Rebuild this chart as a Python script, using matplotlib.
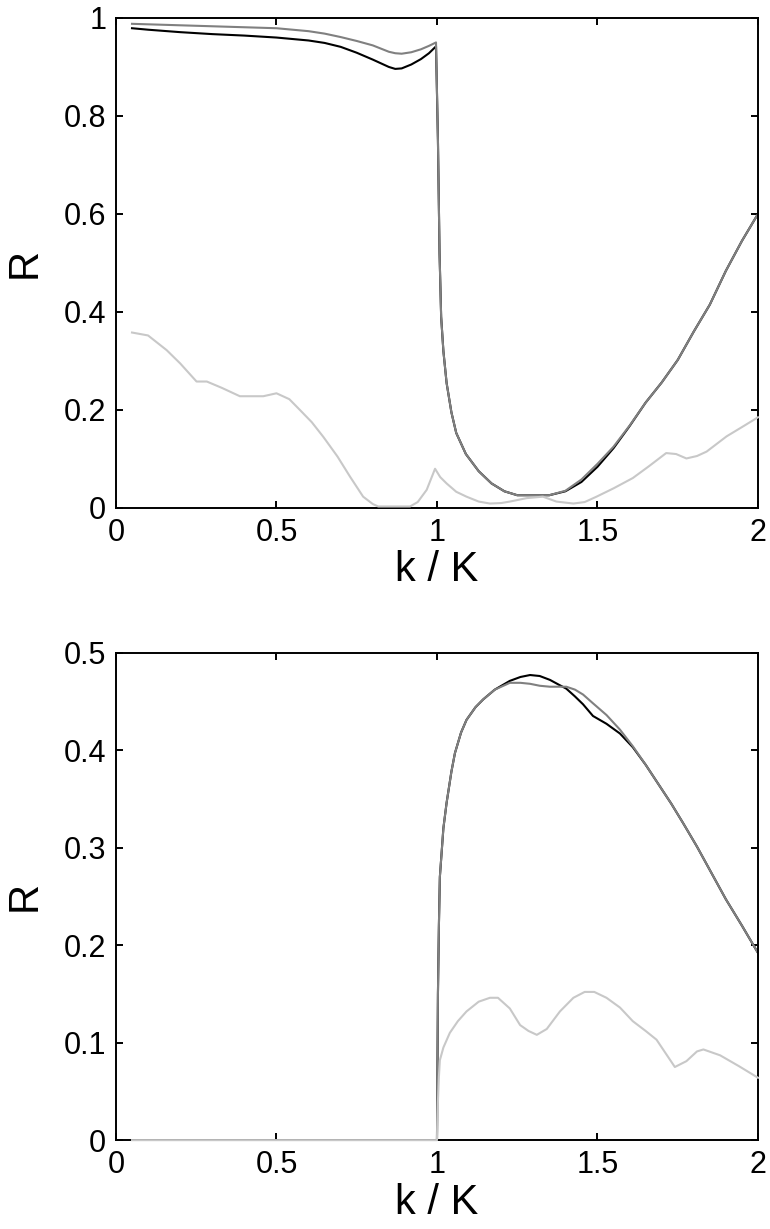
import matplotlib
matplotlib.use('Agg')
import matplotlib.pyplot as plt

plt.rcParams['font.family'] = ['Liberation Sans', 'DejaVu Sans']

BLACK = '#000000'
DARK_GREY = '#808080'
LIGHT_GREY = '#c8c8c8'

# ---- top panel data ----
top_drop_x = [1.003, 1.008, 1.013, 1.02, 1.03, 1.045, 1.06, 1.09, 1.13, 1.17,
              1.21, 1.25, 1.35, 1.4, 1.45, 1.5, 1.55, 1.6, 1.65, 1.7, 1.75,
              1.8, 1.85, 1.9, 1.95, 2.0]
top_drop_y = [0.75, 0.52, 0.39, 0.32, 0.255, 0.195, 0.153, 0.11, 0.075, 0.05,
              0.034, 0.026, 0.026, 0.035, 0.058, 0.09, 0.125, 0.168, 0.215, 0.256, 0.302,
              0.36, 0.415, 0.484, 0.545, 0.6]
top_drop_y_black = [0.75, 0.52, 0.39, 0.32, 0.255, 0.195, 0.153, 0.11, 0.075, 0.05,
                    0.034, 0.026, 0.026, 0.034, 0.053, 0.084, 0.122, 0.167, 0.215, 0.256, 0.302,
                    0.36, 0.415, 0.484, 0.545, 0.6]

top_low_x = [0.05, 0.1, 0.2, 0.3, 0.4, 0.5, 0.6, 0.65, 0.7, 0.75, 0.8, 0.85,
             0.87, 0.89, 0.92, 0.95, 0.975, 0.997]
top_black_low = [0.979, 0.976, 0.971, 0.967, 0.964, 0.960, 0.954, 0.949, 0.941,
                 0.929, 0.915, 0.900, 0.896, 0.897, 0.905, 0.916, 0.928, 0.942]
top_grey_low = [0.988, 0.987, 0.985, 0.983, 0.981, 0.979, 0.973, 0.968, 0.961,
                0.953, 0.944, 0.931, 0.928, 0.927, 0.930, 0.936, 0.943, 0.950]

top_light_x = [0.05, 0.1, 0.158, 0.2, 0.251, 0.283, 0.33, 0.386, 0.459, 0.5, 0.54,
               0.573, 0.61, 0.646, 0.69, 0.729, 0.77, 0.8, 0.817, 0.916, 0.94,
               0.968, 0.994, 1.01, 1.03, 1.06, 1.092, 1.13, 1.165, 1.2, 1.227,
               1.279, 1.33, 1.372, 1.425, 1.46, 1.497, 1.55, 1.61, 1.66, 1.714,
               1.745, 1.777, 1.81, 1.84, 1.87, 1.902, 1.95, 2.0]
top_light_y = [0.358, 0.352, 0.322, 0.295, 0.258, 0.258, 0.245, 0.228, 0.228, 0.234, 0.222,
               0.2, 0.175, 0.145, 0.105, 0.064, 0.023, 0.008, 0.003, 0.003, 0.012,
               0.037, 0.08, 0.063, 0.05, 0.033, 0.023, 0.013, 0.009, 0.01, 0.013,
               0.02, 0.023, 0.013, 0.009, 0.012, 0.023, 0.04, 0.061, 0.085, 0.112,
               0.11, 0.101, 0.106, 0.115, 0.13, 0.146, 0.165, 0.185]

# ---- bottom panel data ----
bot_x = [0.05, 1.0, 1.003, 1.006, 1.009, 1.02, 1.03, 1.045, 1.056, 1.075, 1.092,
         1.12, 1.144, 1.18, 1.227, 1.26, 1.29, 1.32, 1.352, 1.38, 1.403, 1.43,
         1.455, 1.486, 1.528, 1.57, 1.61, 1.65, 1.694, 1.73, 1.767, 1.81, 1.85,
         1.9, 1.95, 2.0]
bot_grey = [0.0, 0.0, 0.15, 0.22, 0.27, 0.32, 0.346, 0.378, 0.397, 0.418, 0.431,
            0.444, 0.452, 0.462, 0.469, 0.469, 0.468, 0.466, 0.465, 0.465, 0.465, 0.462,
            0.457, 0.448, 0.436, 0.421, 0.404, 0.385, 0.363, 0.345, 0.325, 0.301, 0.277,
            0.247, 0.22, 0.192]
bot_black = [0.0, 0.0, 0.15, 0.22, 0.27, 0.32, 0.346, 0.378, 0.397, 0.418, 0.431,
             0.444, 0.452, 0.462, 0.471, 0.475, 0.477, 0.476, 0.472, 0.467, 0.463, 0.455,
             0.447, 0.435, 0.427, 0.417, 0.403, 0.385, 0.363, 0.345, 0.325, 0.301, 0.277,
             0.247, 0.22, 0.192]

bot_light_x = [0.05, 1.0, 1.003, 1.006, 1.009, 1.02, 1.04, 1.065, 1.092, 1.13, 1.165,
               1.19, 1.227, 1.259, 1.285, 1.311, 1.342, 1.383, 1.425, 1.46, 1.49,
               1.528, 1.57, 1.61, 1.65, 1.684, 1.741, 1.777, 1.81, 1.83, 1.882,
               1.94, 2.0]
bot_light_y = [0.0, 0.0, 0.04, 0.065, 0.082, 0.095, 0.11, 0.122, 0.132, 0.142, 0.146,
               0.146, 0.135, 0.118, 0.112, 0.108, 0.114, 0.132, 0.146, 0.152, 0.152,
               0.146, 0.136, 0.122, 0.112, 0.103, 0.075, 0.081, 0.091, 0.093, 0.087,
               0.076, 0.064]

x_ticks = [0, 0.5, 1, 1.5, 2]
x_tick_labels = ['0', '0.5', '1', '1.5', '2']
top_y_ticks = [0, 0.2, 0.4, 0.6, 0.8, 1]
top_y_labels = ['0', '0.2', '0.4', '0.6', '0.8', '1']
bot_y_ticks = [0, 0.1, 0.2, 0.3, 0.4, 0.5]
bot_y_labels = ['0', '0.1', '0.2', '0.3', '0.4', '0.5']

fig = plt.figure(figsize=(7.7, 12.29), dpi=100)
ax_top = fig.add_axes([0.1506, 0.5867, 0.8338, 0.3987])
ax_bot = fig.add_axes([0.1506, 0.0723, 0.8338, 0.3967])

lw = 1.5
ax_top.plot(top_low_x + top_drop_x, top_black_low + top_drop_y_black, color=BLACK, lw=lw)
ax_top.plot(top_low_x + top_drop_x, top_grey_low + top_drop_y, color=DARK_GREY, lw=lw)
ax_top.plot(top_light_x, top_light_y, color=LIGHT_GREY, lw=lw, zorder=3, clip_on=False)

ax_bot.plot(bot_x, bot_black, color=BLACK, lw=lw)
ax_bot.plot(bot_x, bot_grey, color=DARK_GREY, lw=lw)
ax_bot.plot(bot_light_x, bot_light_y, color=LIGHT_GREY, lw=lw, zorder=3, clip_on=False)

for ax, yt, yl, ymax in [(ax_top, top_y_ticks, top_y_labels, 1),
                         (ax_bot, bot_y_ticks, bot_y_labels, 0.5)]:
    ax.set_xlim(0, 2)
    ax.set_ylim(0, ymax)
    ax.set_xticks(x_ticks)
    ax.set_xticklabels(x_tick_labels)
    ax.set_yticks(yt)
    ax.set_yticklabels(yl)
    ax.tick_params(direction='in', length=5, width=1.4, top=True, right=True,
                   labelsize=22, pad=7)
    for spine in ax.spines.values():
        spine.set_linewidth(1.4)
    ax.set_xlabel('k / K', fontsize=30, labelpad=2)
    ax.set_ylabel('R', fontsize=30)
    ax.yaxis.set_label_coords(-0.111, 0.5)

fig.savefig('out.png', dpi=100)
